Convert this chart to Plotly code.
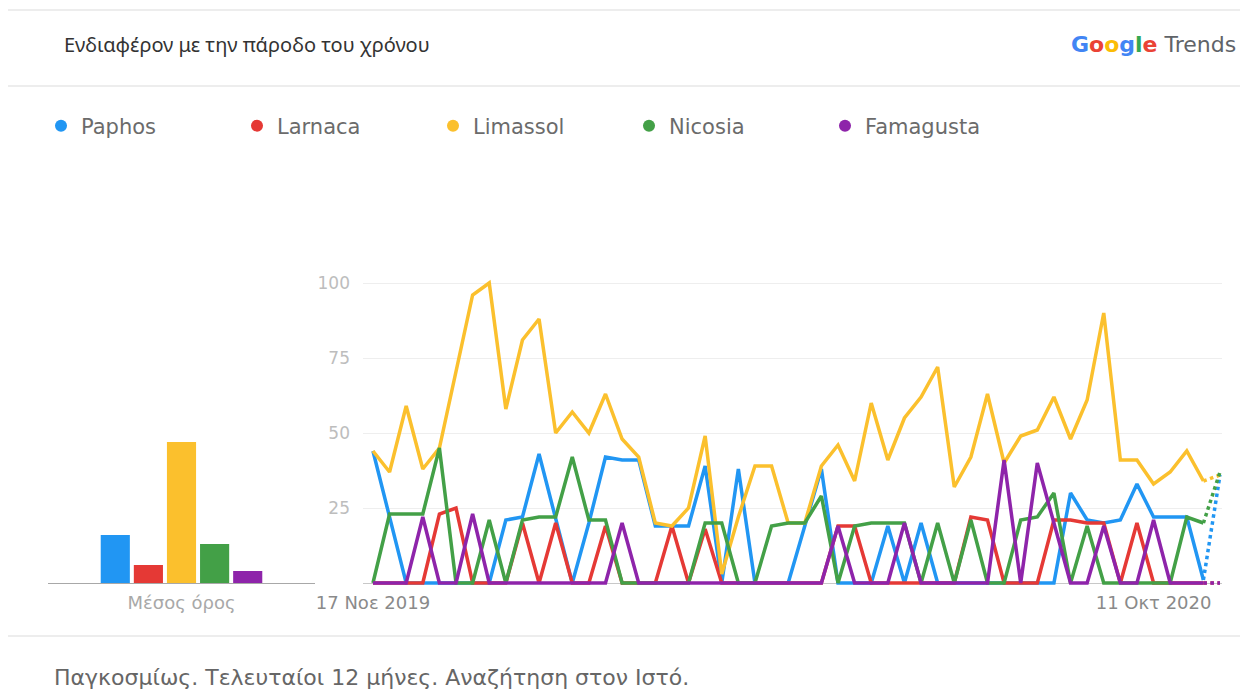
import pandas as pd
import plotly.graph_objects as go

W, H = 1248, 690

cities = ["Paphos", "Larnaca", "Limassol", "Nicosia", "Famagusta"]
colors = ["#2196f3", "#e53935", "#fbc02d", "#43a047", "#8e24aa"]

# weekly points, 17 Nov 2019 -> 8 Nov 2020 (last week is partial)
weeks = pd.date_range("2019-11-17", periods=52, freq="7D")

paphos = [44, 22, 0, 0, 0, 0, 0, 0, 21, 22, 43, 22, 0, 20, 42, 41, 41, 19, 19, 19,
          39, 0, 38, 0, 0, 0, 19, 38, 0, 0, 0, 19, 0, 20, 0, 0, 0, 0, 0, 0,
          0, 0, 30, 21, 20, 21, 33, 22, 22, 22, 1, 36]
larnaca = [0, 0, 0, 0, 23, 25, 0, 0, 0, 20, 0, 20, 0, 0, 19, 0, 0, 0, 19, 0,
           18, 0, 0, 0, 0, 0, 0, 0, 19, 19, 0, 0, 0, 0, 0, 0, 22, 21, 0, 0,
           0, 21, 21, 20, 20, 0, 20, 0, 0, 0, 0, 0]
limassol = [44, 37, 59, 38, 45, 70, 96, 100, 58, 81, 88, 50, 57, 50, 63, 48, 42, 20, 19, 25,
            49, 3, 22, 39, 39, 20, 20, 39, 46, 34, 60, 41, 55, 62, 72, 32, 42, 63, 40, 49,
            51, 62, 48, 61, 90, 41, 41, 33, 37, 44, 34, 36]
nicosia = [0, 23, 23, 23, 45, 0, 0, 21, 0, 21, 22, 22, 42, 21, 21, 0, 0, 0, 0, 0,
           20, 20, 0, 0, 19, 20, 20, 29, 0, 19, 20, 20, 20, 0, 20, 0, 21, 0, 0, 21,
           22, 30, 0, 19, 0, 0, 0, 0, 0, 22, 20, 37]
famagusta = [0, 0, 0, 22, 0, 0, 23, 0, 0, 0, 0, 0, 0, 0, 0, 20, 0, 0, 0, 0,
             0, 0, 0, 0, 0, 0, 0, 0, 19, 0, 0, 0, 20, 0, 0, 0, 0, 0, 41, 0,
             40, 20, 0, 0, 19, 0, 0, 21, 0, 0, 0, 0]
series = [paphos, larnaca, limassol, nicosia, famagusta]

averages = [16, 6, 47, 13, 4]
avg_label = "Μέσος όρος"

tick_dates = [weeks[0], weeks[47]]
tick_text = ["17 Νοε 2019", "11 Οκτ 2020"]
y_ticks = [25, 50, 75, 100]

OFF = 8  # page body margin


def px(x):
    return (x - OFF) / W


def py(y):
    return 1 - (y - OFF) / H


fig = go.Figure()

# averages bar chart on the left
for name, col, avg in zip(cities, colors, averages):
    fig.add_trace(go.Bar(x=[avg_label], y=[avg], marker_color=col, marker_line_width=0,
                         name=name, showlegend=False, xaxis="x", yaxis="y"))

# time series, solid part
for name, col, vals in zip(cities, colors, series):
    fig.add_trace(go.Scatter(x=weeks[:-1], y=vals[:-1], mode="lines", name=name,
                             line=dict(color=col, width=3.5), showlegend=False,
                             xaxis="x2", yaxis="y2"))
# last (partial) week dotted
for name, col, vals in zip(cities, colors, series):
    fig.add_trace(go.Scatter(x=weeks[-2:], y=vals[-2:], mode="lines", name=name,
                             line=dict(color=col, width=3.5, dash="dot"), showlegend=False,
                             xaxis="x2", yaxis="y2"))

# legend entries as dots
for name, col in zip(cities, colors):
    fig.add_trace(go.Scatter(x=[None], y=[None], mode="markers", name=name,
                             marker=dict(color=col, size=12), xaxis="x2", yaxis="y2"))

x_start = weeks[0] - pd.Timedelta(days=0.6 * 7)
x_end = weeks[-1] + pd.Timedelta(days=0.12 * 7)

tick_font = dict(family="DejaVu Sans", size=18, color="#8a8a8a")

fig.update_layout(
    width=W, height=H,
    margin=dict(l=0, r=0, t=0, b=0, autoexpand=False),
    paper_bgcolor="white", plot_bgcolor="white",
    font=dict(family="Noto Sans", color="#5f6368"),
    barmode="group", bargap=0.38, bargroupgap=0.12,
    hovermode=False,
    xaxis=dict(domain=[px(48), px(315)], type="category", range=[-0.5, 0.5],
               showgrid=False, showline=False, ticks="", ticklabelstandoff=4,
               tickfont=dict(family="DejaVu Sans", size=18, color="#a8a8a8")),
    yaxis=dict(domain=[py(586), py(277)], range=[-1, 102], showgrid=False,
               showticklabels=False, zeroline=True, zerolinecolor="#a8a8a8",
               zerolinewidth=1),
    xaxis2=dict(domain=[px(363), px(1222)], type="date", range=[x_start, x_end],
                anchor="y2", showgrid=False, showline=False, ticks="",
                ticklabelstandoff=4, tickvals=tick_dates, ticktext=tick_text,
                tickfont=tick_font),
    yaxis2=dict(domain=[py(586), py(277)], range=[-1, 102], anchor="x2",
                tickvals=y_ticks, gridcolor="#eeeeee", gridwidth=1,
                zeroline=True, zerolinecolor="#c8c8c8", zerolinewidth=1,
                ticklabelstandoff=12,
                tickfont=dict(family="DejaVu Sans", size=17, color="#bdbdbd")),
    legend=dict(orientation="h", x=px(41), y=py(126), xanchor="left", yanchor="middle",
                entrywidth=151, entrywidthmode="pixels", itemclick=False,
                font=dict(family="DejaVu Sans", size=21, color="#6b6b6b"),
                bgcolor="rgba(0,0,0,0)"),
)

for yl in [10, 86, 636]:
    fig.add_shape(type="line", xref="paper", yref="paper", x0=0, x1=1,
                  y0=py(yl), y1=py(yl), line=dict(color="#ededed", width=2))

fig.add_annotation(x=px(62), y=py(45), xref="paper", yref="paper", xanchor="left",
                   yanchor="middle", showarrow=False,
                   text="Ενδιαφέρον με την πάροδο του χρόνου",
                   font=dict(size=20, color="#333333"))

google = ("<b><span style='color:#4285f4'>G</span><span style='color:#ea4335'>o</span>"
          "<span style='color:#fbbc05'>o</span><span style='color:#4285f4'>g</span>"
          "<span style='color:#34a853'>l</span><span style='color:#ea4335'>e</span></b>"
          " <span style='color:#5f6368'>Trends</span>")
fig.add_annotation(x=px(1238), y=py(45), xref="paper", yref="paper", xanchor="right",
                   yanchor="middle", showarrow=False, text=google,
                   font=dict(family="DejaVu Sans", size=22))

fig.add_annotation(x=px(52), y=py(677), xref="paper", yref="paper", xanchor="left",
                   yanchor="middle", showarrow=False,
                   text="Παγκοσμίως. Τελευταίοι 12 μήνες. Αναζήτηση στον Ιστό.",
                   font=dict(family="DejaVu Sans", size=22, color="#666666"))

fig.write_html("out.html")
